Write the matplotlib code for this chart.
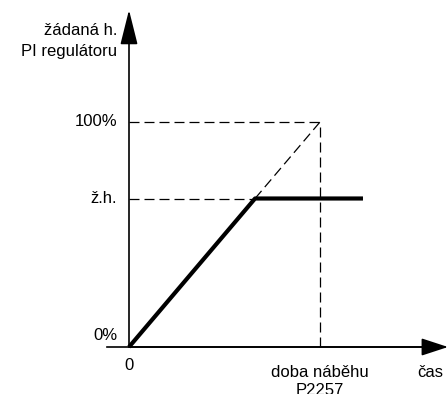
import matplotlib
matplotlib.use("Agg")
import matplotlib.pyplot as plt

# rampa žádané hodnoty PI regulátoru
ramp_time = 1.0          # doba náběhu (P2257)
full_scale = 100.0       # 100 %
setpoint = 66.0          # ž.h. v %
end_time = 1.225         # konec zobrazené křivky

level_values = [0.0, setpoint, full_scale]
level_labels = ["0%", "ž.h.", "100%"]

plt.rcParams["font.family"] = ["Liberation Sans", "DejaVu Sans"]
FS = 12

W, H, DPI = 448, 394, 100
fig = plt.figure(figsize=(W / DPI, H / DPI), dpi=DPI)
ax = fig.add_axes([0, 0, 1, 1])
ax.axis("off")

# počátek v pixelech a měřítko os
x0_px, y0_px = 129, 347
px_per_t = 191.0
px_per_pct = 2.25
ax.set_xlim(-x0_px / px_per_t, (W - x0_px) / px_per_t)
ax.set_ylim(-(H - y0_px) / px_per_pct, y0_px / px_per_pct)


def px(xp, yp):
    """pixel (od levého horního rohu) -> datové souřadnice"""
    return (xp - x0_px) / px_per_t, (y0_px - yp) / px_per_pct


# osy se šipkami
ax.plot(*zip(px(107, 347), px(430, 347)), color="black", lw=1.2)
ax.annotate("", xy=px(448, 347), xytext=px(129, 347),
            arrowprops=dict(arrowstyle="-|>,head_length=16.5,head_width=5.4",
                            mutation_scale=1, color="black", lw=1.2,
                            shrinkA=0, shrinkB=0))
ax.annotate("", xy=px(129, 10), xytext=px(129, 347),
            arrowprops=dict(arrowstyle="-|>,head_length=21.6,head_width=5.4",
                            mutation_scale=1, color="black", lw=1.2,
                            shrinkA=0, shrinkB=0))

dash = dict(color="black", lw=0.9, dashes=(8, 4))
t_knee = ramp_time * setpoint / full_scale

# pomocné čárkované čáry
ax.plot([0, ramp_time], [full_scale, full_scale], **dash)
ax.plot([0, t_knee], [setpoint, setpoint], **dash)
ax.plot([ramp_time, ramp_time], [0, full_scale], **dash)
ax.plot([t_knee, ramp_time], [setpoint, full_scale], **dash)

# skutečný průběh žádané hodnoty
ax.plot([0, t_knee, end_time], [0, setpoint, setpoint],
        color="black", lw=3, solid_capstyle="butt")

# popisky úrovní
lab_x = px(117, 0)[0]
for v, lab in zip(level_values[1:], level_labels[1:]):
    ax.text(lab_x, v, lab, ha="right", va="center", fontsize=FS)
ax.text(lab_x, px(0, 335)[1], level_labels[0], ha="right", va="center",
        fontsize=FS)

ax.text(*px(129, 358), "0", ha="center", va="top", fontsize=FS)
ax.text(ramp_time, px(0, 377)[1], "doba náběhu", ha="center",
        va="baseline", fontsize=FS)
ax.text(ramp_time, px(0, 395)[1], "P2257", ha="center",
        va="baseline", fontsize=FS)
ax.text(*px(430, 377), "čas", ha="center", va="baseline", fontsize=FS)
ax.text(*px(117, 35), "žádaná h.", ha="right", va="baseline", fontsize=FS)
ax.text(*px(117, 56), "PI regulátoru", ha="right", va="baseline", fontsize=FS)

fig.savefig("out.png", dpi=DPI)
